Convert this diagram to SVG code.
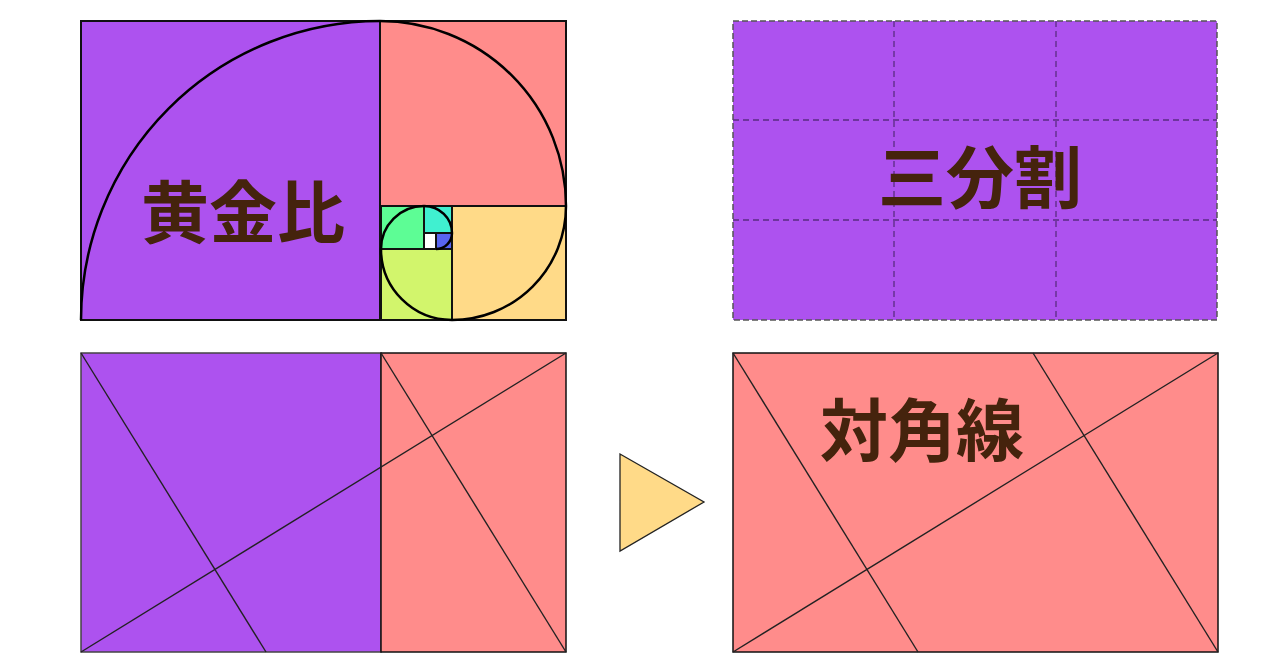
<svg xmlns="http://www.w3.org/2000/svg" width="1280" height="670" viewBox="0 0 1280 670">
<style>
.sq{stroke:#111;stroke-width:2}
.ln{stroke:#222;stroke-width:1.4;fill:none}
.spiral{fill:none;stroke:#000;stroke-width:2.5}
.grid{stroke:#5a2d82;stroke-width:1.3;stroke-dasharray:6 4;fill:none}
.lbl{font-family:"Noto Sans CJK JP","Noto Sans CJK SC",sans-serif;font-weight:700;font-size:68px;fill:#45230d;text-anchor:middle}
.pur{fill:#ad52ef}
.red{fill:#ff8c8b}
</style>
<rect width="1280" height="670" fill="#fff"/>
<g id="golden">
<rect class="sq pur" x="81" y="21" width="299" height="299"/>
<rect class="sq red" x="380" y="21" width="186" height="185"/>
<rect class="sq" fill="#ffda88" x="452" y="206" width="114" height="114"/>
<rect class="sq" fill="#d2f56c" x="381" y="249" width="71" height="71"/>
<rect class="sq" fill="#5dfd95" x="381" y="206" width="43" height="43"/>
<rect class="sq" fill="#40f0d0" x="424" y="206" width="28" height="27"/>
<rect class="sq" fill="#5865f0" x="436" y="233" width="16" height="16"/>
<rect class="sq" fill="#ffffff" x="424" y="233" width="12" height="16"/>
<path class="spiral" d="M81,320 A299,299 0 0 1 380,21 A186,185 0 0 1 566,206 A114,114 0 0 1 452,320 A71,71 0 0 1 381,249 A43,43 0 0 1 424,206 A28,27 0 0 1 452,233 A16,16 0 0 1 436,249"/>
<text class="lbl" x="243" y="238">黄金比</text>
</g>
<g id="thirds">
<rect class="pur" x="733" y="21" width="484" height="299" stroke="#555" stroke-width="1.5" stroke-dasharray="6 3"/>
<path class="grid" d="M894,21 V320 M1056,21 V320 M733,120 H1217 M733,220 H1217"/>
<text class="lbl" x="980" y="203">三分割</text>
</g>
<g id="diag-left">
<rect class="pur" x="81" y="353" width="300" height="299" stroke="#444" stroke-width="1.5"/>
<rect class="red" x="381" y="353" width="185" height="299" stroke="#111" stroke-width="1.5"/>
</g>
<g id="diagonal">
<rect class="red" x="733" y="353" width="485" height="299" stroke="#111" stroke-width="1.5"/>
<text class="lbl" x="922" y="456">対角線</text>
</g>
<g id="arrow">
<polygon points="620,454 704,502 620,551" fill="#ffda88" stroke="#222" stroke-width="1.3"/>
</g>
<g id="connectors">
<line class="ln" x1="81" y1="353" x2="266" y2="652"/>
<line class="ln" x1="381" y1="353" x2="566" y2="652"/>
<line class="ln" x1="81" y1="652" x2="566" y2="353"/>
<line class="ln" x1="733" y1="353" x2="918" y2="652"/>
<line class="ln" x1="1033" y1="353" x2="1218" y2="652"/>
<line class="ln" x1="733" y1="652" x2="1218" y2="353"/>
</g>
</svg>
